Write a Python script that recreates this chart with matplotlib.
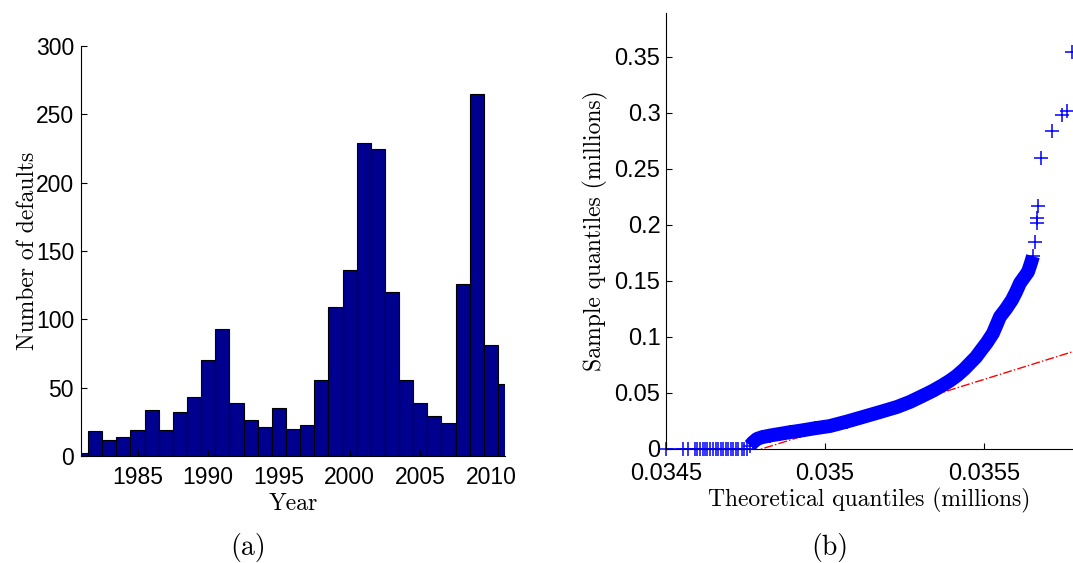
import matplotlib.pyplot as plt

# ------------------------------------------------------
# Defaults per year (bar chart) and a normal QQ plot of
# loss amounts, side by side with (a)/(b) captions.
# ------------------------------------------------------

# Panel (a): number of defaults per year
years = list(range(1981, 2012))
defaults = [2, 18, 12, 14, 19, 34, 19, 32, 43, 70,
            93, 39, 26, 21, 35, 20, 23, 56, 109, 136,
            229, 225, 120, 56, 39, 29, 24, 126, 265, 81, 53]
year_ticks = [1985, 1990, 1995, 2000, 2005, 2010]
count_ticks = [0, 50, 100, 150, 200, 250, 300]

# Panel (b): sorted sample quantiles vs theoretical quantiles (millions)
# zero losses
zero_x = [0.0345000, 0.0345544, 0.0345701, 0.0345912, 0.0345984, 0.0346069,
          0.0346154, 0.0346226, 0.0346299, 0.0346384, 0.0346487, 0.0346572,
          0.0346645, 0.0346720, 0.0346802, 0.0346887, 0.0346959, 0.0347035,
          0.0347116, 0.0347201, 0.0347274, 0.0347381, 0.0347453, 0.0347538]
zero_y = [0.0] * len(zero_x)

# dense body of the distribution
band_x = [0.0347642, 0.0347736, 0.0347862, 0.0348019, 0.0348271, 0.0348585,
          0.0348899, 0.0349214, 0.0349686, 0.0350157, 0.0350692, 0.0351195,
          0.0351730, 0.0352264, 0.0352673, 0.0353082, 0.0353396, 0.0353711,
          0.0353931, 0.0354151, 0.0354371, 0.0354560, 0.0354749, 0.0354906,
          0.0355094, 0.0355283, 0.0355503, 0.0355692, 0.0355881, 0.0356006,
          0.0356132, 0.0356258, 0.0356384, 0.0356478, 0.0356541]
band_y = [0.003, 0.006, 0.009, 0.0105, 0.012, 0.0135,
          0.015, 0.0163, 0.0185, 0.0205, 0.0245, 0.0286,
          0.0330, 0.0375, 0.0420, 0.0476, 0.0520, 0.0571,
          0.0610, 0.0655, 0.0710, 0.0765, 0.0820, 0.0880,
          0.0950, 0.1033, 0.1180, 0.1250, 0.1330, 0.1400,
          0.1480, 0.1530, 0.1580, 0.1660, 0.1720]

# sparse upper tail
tail_x = [0.0356604, 0.0356657, 0.0356676, 0.0356708, 0.0356792,
          0.0357129, 0.0357453, 0.0357610, 0.0357780]
tail_y = [0.185, 0.202, 0.206, 0.217, 0.260,
          0.284, 0.298, 0.302, 0.354]

# reference line through the quartiles
ref_x = [0.0345, 0.03578]
ref_y = [-0.0266, 0.0869]

theo_ticks = [0.0345, 0.035, 0.0355]
theo_labels = ["0.0345", "0.035", "0.0355"]
sample_ticks = [0, 0.05, 0.1, 0.15, 0.2, 0.25, 0.3, 0.35]
sample_labels = ["0", "0.05", "0.1", "0.15", "0.2", "0.25", "0.3", "0.35"]

plt.rcParams['font.family'] = 'Liberation Sans'
SERIF = 'cmr10'

fig = plt.figure(figsize=(10.73, 5.63), dpi=100)

# ---- (a) bar chart ----
ax1 = fig.add_axes([0.0755, 0.190, 0.3952, 0.7282])
ax1.bar(years, defaults, width=1.0, color='#00008F', edgecolor='black',
        linewidth=0.8)
ax1.set_xlim(1981, 2011)
ax1.set_ylim(0, 300)
ax1.set_xticks(year_ticks)
ax1.set_yticks(count_ticks)
ax1.spines['top'].set_visible(False)
ax1.spines['right'].set_visible(False)
ax1.tick_params(direction='in', length=4, labelsize=16.5)
ax1.tick_params(axis='x', pad=7)
ax1.tick_params(axis='y', pad=5)
ax1.set_xlabel("Year", family=SERIF, fontsize=17, labelpad=3)
ax1.set_ylabel("Number of defaults", family=SERIF, fontsize=17, labelpad=-2)

# ---- (b) QQ plot ----
ax2 = fig.add_axes([0.6207, 0.2025, 0.3793, 0.7744])
ax2.plot(ref_x, ref_y, color='red', linestyle='-.', linewidth=1.0)
# body drawn as a heavy band so the overlapping markers read as one stroke
ax2.plot(band_x, band_y, color='blue', linewidth=10, solid_capstyle='butt',
         clip_on=False)
ax2.plot(zero_x, zero_y, color='blue', linewidth=1.2, clip_on=False)
qq_x = zero_x + band_x + tail_x
qq_y = zero_y + band_y + tail_y
ax2.plot(qq_x, qq_y, linestyle='none', marker='+', markersize=10,
         markeredgewidth=1.1, color='blue', clip_on=False)
ax2.set_xlim(0.0345, 0.03578)
ax2.set_ylim(0, 0.389)
ax2.set_xticks(theo_ticks)
ax2.set_xticklabels(theo_labels)
ax2.set_yticks(sample_ticks)
ax2.set_yticklabels(sample_labels)
ax2.spines['top'].set_visible(False)
ax2.spines['right'].set_visible(False)
ax2.tick_params(direction='in', length=4, labelsize=17)
ax2.tick_params(axis='x', pad=10)
ax2.tick_params(axis='y', pad=4)
ax2.set_xlabel("Theoretical quantiles (millions)", family=SERIF, fontsize=17,
               labelpad=2)
ax2.set_ylabel("Sample quantiles (millions)", family=SERIF, fontsize=17,
               labelpad=5)

# captions
fig.text(248 / 1073, 1 - 548 / 563, "(a)", family=SERIF, fontsize=20,
         ha='center', va='center')
fig.text(830 / 1073, 1 - 548 / 563, "(b)", family=SERIF, fontsize=20,
         ha='center', va='center')

fig.savefig("out.png", dpi=100)
